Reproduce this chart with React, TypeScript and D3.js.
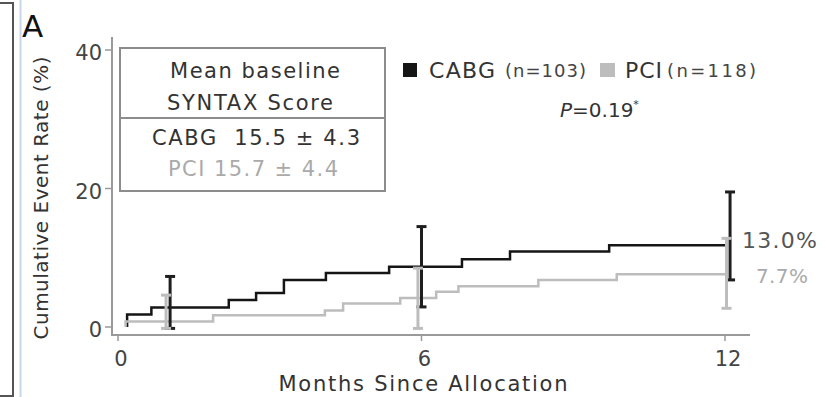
import React from "react";
import * as d3 from "d3";

const W = 829;
const H = 397;

// CABG step curve (months, cumulative %)
const cabgTimes = [0.18, 0.18, 0.66, 2.19, 2.73, 3.28, 4.11, 5.36, 6.8, 7.75, 9.71, 12.05];
const cabgValues = [0, 1.8, 2.8, 3.9, 4.9, 6.8, 7.8, 8.7, 9.8, 10.9, 11.8, 11.8];
// PCI step curve
const pciTimes = [0.15, 0.15, 1.88, 4.09, 4.45, 5.58, 6.29, 6.73, 8.31, 9.86, 12.05];
const pciValues = [0, 0.8, 1.7, 2.4, 3.4, 4.2, 5.1, 5.9, 6.8, 7.6, 7.6];

// error bars
const cabgBarTimes = [1.03, 6.0, 12.1];
const cabgLow = [-0.2, 2.9, 6.8];
const cabgHigh = [7.3, 14.5, 19.5];
const pciBarTimes = [0.95, 5.93, 12.03];
const pciLow = [-0.2, -0.2, 2.7];
const pciHigh = [4.6, 8.5, 12.8];

const xTicks = [0, 6, 12];
const yTicks = [0, 20, 40];

const boxLines = ["Mean baseline", "SYNTAX Score", "CABG\u00a0\u00a015.5 ± 4.3", "PCI 15.7 ± 4.4"];
const endLabels = ["13.0%", "7.7%"];

const CABG_COLOR = "#151515";
const PCI_COLOR = "#bdbdbd";
const AXIS_COLOR = "#9a9a9a";
const FONT = "DejaVu Sans, Verdana, sans-serif";

export default function App() {
  const x = d3.scaleLinear().domain([0, 12]).range([118, 725]);
  const y = d3.scaleLinear().domain([0, 40]).range([327, 50]);

  const line = d3
    .line<[number, number]>()
    .x((d) => x(d[0]))
    .y((d) => y(d[1]))
    .curve(d3.curveStepAfter);

  const cabgData = cabgTimes.map((t, i) => [t, cabgValues[i]] as [number, number]);
  const pciData = pciTimes.map((t, i) => [t, pciValues[i]] as [number, number]);

  const bar = (t: number, lo: number, hi: number, color: string, key: string) => (
    <g key={key}>
      <line x1={x(t)} x2={x(t)} y1={y(lo)} y2={y(hi)} stroke={color} strokeWidth={3} />
      <line x1={x(t) - 5} x2={x(t) + 5} y1={y(hi)} y2={y(hi)} stroke={color} strokeWidth={3} />
      <line x1={x(t) - 5} x2={x(t) + 5} y1={y(lo)} y2={y(lo)} stroke={color} strokeWidth={3} />
    </g>
  );

  return (
    <svg
      width={W}
      height={H}
      style={{ position: "absolute", left: 0, top: 0, background: "#fff" }}
      fontFamily={FONT}
    >
      <rect x={0} y={0} width={W} height={H} fill="#fff" />
      {/* left frame */}
      <rect x={-10} y={3} width={23} height={393} fill="none" stroke="#555" strokeWidth={2} />
      <line x1={20.5} x2={20.5} y1={0} y2={H} stroke="#c9d5e8" strokeWidth={2} />
      <text x={22} y={37} fontSize={31} fill="#111">A</text>

      {/* axes */}
      <line x1={112} x2={112} y1={37} y2={335} stroke={AXIS_COLOR} strokeWidth={2} />
      <line x1={111} x2={750} y1={335} y2={335} stroke={AXIS_COLOR} strokeWidth={2} />
      {yTicks.map((v) => (
        <g key={"y" + v}>
          <line x1={105} x2={112} y1={y(v)} y2={y(v)} stroke={AXIS_COLOR} strokeWidth={1.5} />
          <text x={102} y={y(v) + 10} fontSize={21} textAnchor="end" fill="#444">
            {v}
          </text>
        </g>
      ))}
      {xTicks.map((v) => (
        <g key={"x" + v}>
          <line x1={x(v)} x2={x(v)} y1={335} y2={341} stroke={AXIS_COLOR} strokeWidth={1.5} />
          <text x={x(v) + 3} y={366} fontSize={21} textAnchor="middle" fill="#444">
            {v}
          </text>
        </g>
      ))}
      <text
        x={423}
        y={391}
        fontSize={21}
        textAnchor="middle"
        fill="#333"
        textLength={289}
        lengthAdjust="spacing"
      >
        Months Since Allocation
      </text>
      <text
        transform="translate(48,198) rotate(-90)"
        fontSize={20}
        textAnchor="middle"
        fill="#333"
        textLength={283}
        lengthAdjust="spacing"
      >
        Cumulative Event Rate (%)
      </text>

      {/* curves */}
      <path d={line(cabgData) || ""} fill="none" stroke={CABG_COLOR} strokeWidth={2.5} />
      <path d={line(pciData) || ""} fill="none" stroke={PCI_COLOR} strokeWidth={2.5} />

      {/* error bars */}
      {cabgBarTimes.map((t, i) => bar(t, cabgLow[i], cabgHigh[i], "#1e1e1e", "c" + i))}
      {pciBarTimes.map((t, i) => bar(t, pciLow[i], pciHigh[i], PCI_COLOR, "p" + i))}

      {/* end labels */}
      <text x={742} y={248} fontSize={22} fill="#555" textLength={75} lengthAdjust="spacing">
        {endLabels[0]}
      </text>
      <text x={756} y={283} fontSize={20} fill="#aaa" textLength={52} lengthAdjust="spacing">
        {endLabels[1]}
      </text>

      {/* info box */}
      <rect x={120} y={48} width={265} height={143} fill="#fff" stroke="#8c8c8c" strokeWidth={2} />
      <line x1={120} x2={385} y1={118} y2={118} stroke="#8c8c8c" strokeWidth={2} />
      <text x={255} y={78} fontSize={21} textAnchor="middle" fill="#333" textLength={170} lengthAdjust="spacing">
        {boxLines[0]}
      </text>
      <text x={250} y={110} fontSize={21} textAnchor="middle" fill="#333" textLength={166} lengthAdjust="spacing">
        {boxLines[1]}
      </text>
      <text x={256} y={145} fontSize={21} textAnchor="middle" fill="#333" textLength={208} lengthAdjust="spacing">
        {boxLines[2]}
      </text>
      <text x={253} y={176} fontSize={21} textAnchor="middle" fill="#aaa" textLength={170} lengthAdjust="spacing">
        {boxLines[3]}
      </text>

      {/* legend */}
      <rect x={403} y={63} width={14} height={14} fill={CABG_COLOR} />
      <text x={429} y={78} fontSize={22} fill="#333" textLength={66} lengthAdjust="spacing">CABG</text>
      <text x={505} y={77} fontSize={18} fill="#444" textLength={81} lengthAdjust="spacing">(n=103)</text>
      <rect x={600} y={63} width={15} height={14} fill={PCI_COLOR} />
      <text x={625} y={78} fontSize={22} fill="#333" textLength={37} lengthAdjust="spacing">PCI</text>
      <text x={667} y={77} fontSize={18} fill="#444" textLength={89} lengthAdjust="spacing">(n=118)</text>
      <text x={560} y={117} fontSize={20} fill="#333">
        <tspan fontStyle="italic">P</tspan>
        <tspan>=0.19</tspan>
        <tspan fontSize={11} dy={-9}>*</tspan>
      </text>
    </svg>
  );
}
